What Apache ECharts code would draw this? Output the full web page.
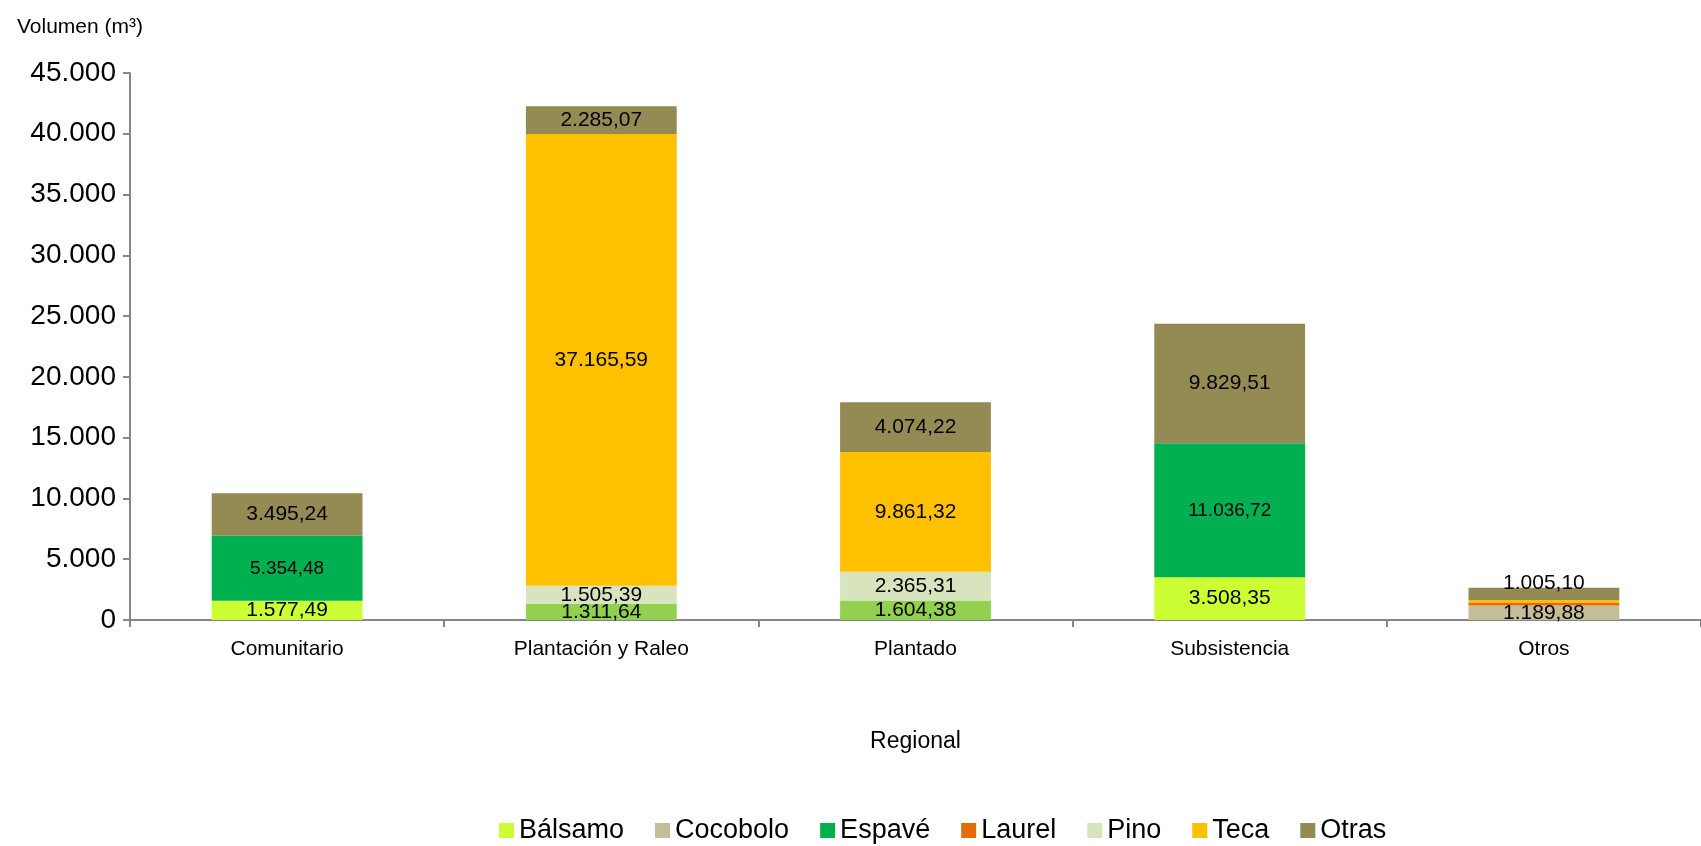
<!DOCTYPE html>
<html>
<head>
<meta charset="utf-8">
<script src="https://cdn.jsdelivr.net/npm/echarts@6/dist/echarts.min.js"></script>
<style>
  html, body { margin: 0; padding: 0; background: #fff; }
  .chart { width: 1701px; height: 846px; }
</style>
</head>
<body>
<div class="chart"></div>
<script>
// categorías y valores (m3)
const categories = ["Comunitario", "Plantación y Raleo", "Plantado", "Subsistencia", "Otros"];
const balsamo = [1577.49, 1311.64, 1604.38, 3508.35, 0];
const cocobolo = [0, 0, 0, 0, 1189.88];
const espave = [5354.48, 0, 0, 11036.72, 0];
const laurel = [0, 0, 0, 0, 250];
const pino = [0, 1505.39, 2365.31, 0, 0];
const teca = [0, 37165.59, 9861.32, 0, 200];
const otras = [3495.24, 2285.07, 4074.22, 9829.51, 1005.1];
// barras de Bálsamo con otro tono en el original
const balsamoAlt = ["Plantación y Raleo", "Plantado"];

// formato 1.234,56
function fmt(v, dec) {
  let s = v.toFixed(dec);
  let parts = s.split(".");
  parts[0] = parts[0].replace(/\B(?=(\d{3})+(?!\d))/g, ".");
  return parts.length > 1 ? parts[0] + "," + parts[1] : parts[0];
}

function setBar() {
  let myChart = echarts.init(document.querySelector(".chart"));
  const font = "Liberation Sans, Arial, sans-serif";

  function serie(name, data, color, labelSize) {
    return {
      name: name,
      type: "bar",
      stack: "total",
      barWidth: "48%",
      data: data,
      itemStyle: { color: color },
      label: {
        show: true,
        position: "inside",
        color: "#000",
        fontFamily: font,
        fontSize: labelSize || 21,
        formatter: function (p) {
          return p.value >= 500 ? fmt(p.value, 2) : "";
        },
      },
    };
  }

  // Bálsamo: tono verde medio en dos categorías
  let balsamoData = balsamo.map(function (v, i) {
    return balsamoAlt.includes(categories[i])
      ? { value: v, itemStyle: { color: "#92D050" } }
      : v;
  });
  // etiqueta de Otras en "Otros" un poco más arriba
  let otrasData = otras.map(function (v, i) {
    return i === 4 ? { value: v, label: { offset: [0, -11] } } : v;
  });

  let series = [
    serie("Bálsamo", balsamoData, "#CCFF33"),
    serie("Cocobolo", cocobolo, "#C4BD97"),
    serie("Espavé", espave, "#00B050", 19),
    serie("Laurel", laurel, "#E36C09"),
    serie("Pino", pino, "#D7E4BD"),
    serie("Teca", teca, "#FFC000"),
    serie("Otras", otrasData, "#948A54"),
  ];

  let option = {
    animation: false,
    textStyle: { fontFamily: font },
    title: {
      text: "Volumen (m³)",
      left: 12,
      top: 12,
      textStyle: { fontSize: 21, fontWeight: "normal", color: "#000", fontFamily: font },
    },
    grid: { left: 130, right: 0, top: 73, bottom: 226 },
    legend: {
      left: 494,
      bottom: -3,
      itemWidth: 15,
      itemHeight: 15,
      itemGap: 31,
      icon: "rect",
      textStyle: { fontSize: 27, color: "#000", fontFamily: font },
      data: ["Bálsamo", "Cocobolo", "Espavé", "Laurel", "Pino", "Teca", "Otras"],
    },
    xAxis: {
      type: "category",
      data: categories,
      name: "Regional",
      nameLocation: "middle",
      nameGap: 110,
      nameTextStyle: { fontSize: 23, color: "#000" },
      axisLine: { lineStyle: { color: "#868686", width: 2 } },
      axisTick: { show: true, alignWithLabel: false, length: 7, lineStyle: { color: "#868686", width: 2 } },
      axisLabel: { fontSize: 21, color: "#000", margin: 19 },
    },
    yAxis: {
      type: "value",
      min: 0,
      max: 45000,
      interval: 5000,
      splitLine: { show: false },
      axisLine: { show: true, lineStyle: { color: "#868686", width: 2 } },
      axisTick: { show: true, length: 7, lineStyle: { color: "#868686", width: 2 } },
      axisLabel: {
        fontSize: 28,
        color: "#000",
        margin: 14,
        formatter: function (v) { return fmt(v, 0); },
      },
    },
    series: series,
  };
  myChart.setOption(option);
}
//调用
setBar();
</script>
</body>
</html>
